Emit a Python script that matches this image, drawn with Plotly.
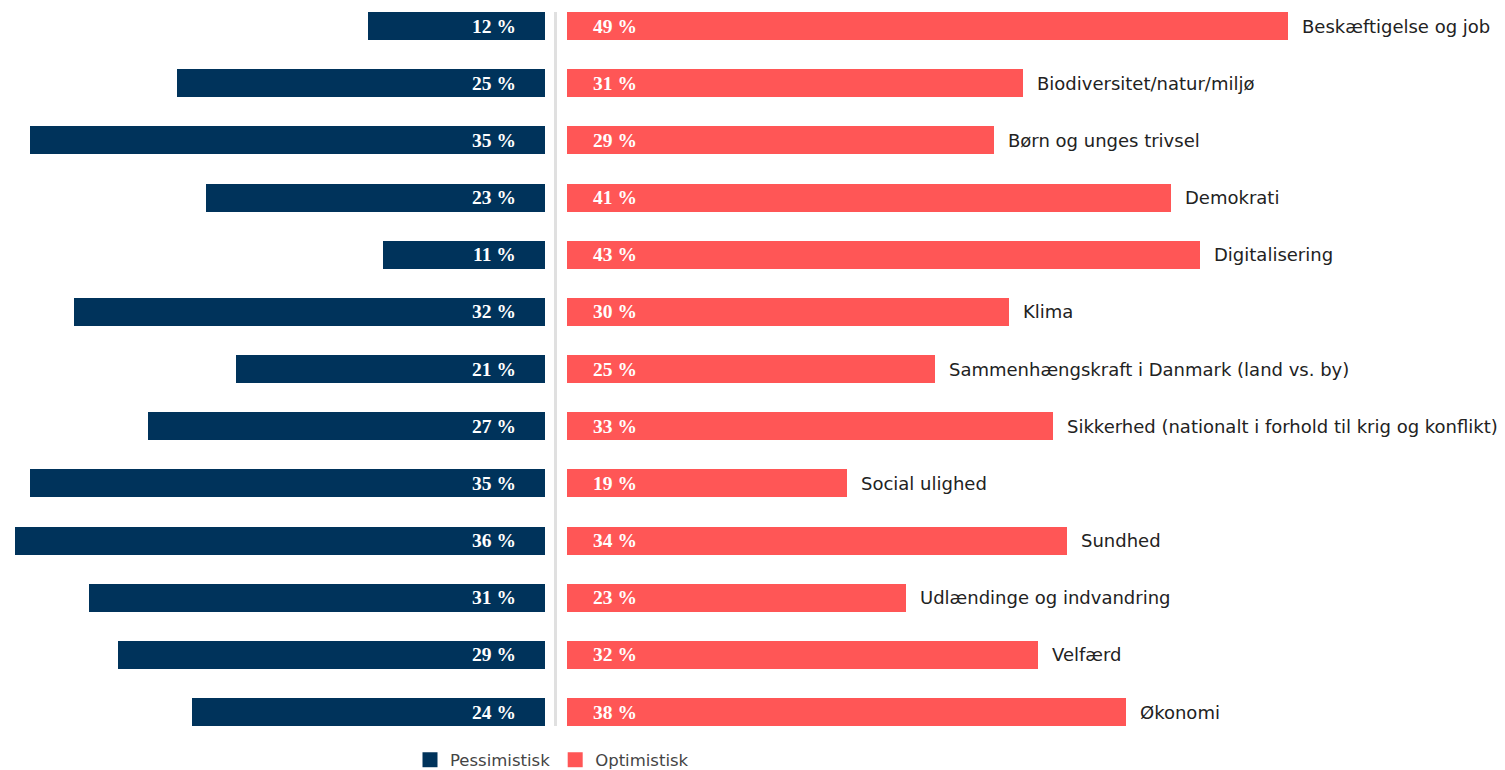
import plotly.graph_objects as go

categories = [
    "Beskæftigelse og job",
    "Biodiversitet/natur/miljø",
    "Børn og unges trivsel",
    "Demokrati",
    "Digitalisering",
    "Klima",
    "Sammenhængskraft i Danmark (land vs. by)",
    "Sikkerhed (nationalt i forhold til krig og konflikt)",
    "Social ulighed",
    "Sundhed",
    "Udlændinge og indvandring",
    "Velfærd",
    "Økonomi",
]
pessimistisk = [12, 25, 35, 23, 11, 32, 21, 27, 35, 36, 31, 29, 24]
optimistisk = [49, 31, 29, 41, 43, 30, 25, 33, 19, 34, 23, 32, 38]

NAVY = "#00335B"
RED = "#FF5656"
W, H = 1505, 770
PX_PER = 14.72  # pixels per percentage point

idx = list(range(len(categories)))

fig = go.Figure()
fig.add_trace(go.Bar(
    y=idx, x=pessimistisk, orientation="h", name="Pessimistisk",
    marker=dict(color=NAVY, line=dict(width=0)), width=0.49,
    xaxis="x", yaxis="y", hoverinfo="skip", showlegend=False,
))
fig.add_trace(go.Bar(
    y=idx, x=optimistisk, orientation="h", name="Optimistisk",
    marker=dict(color=RED, line=dict(width=0)), width=0.49,
    xaxis="x2", yaxis="y", hoverinfo="skip", showlegend=False,
))
for name, col in [("Pessimistisk", NAVY), ("Optimistisk", RED)]:
    fig.add_trace(go.Scatter(x=[None], y=[None], mode="markers", name=name,
                             marker=dict(symbol="square", size=15, color=col),
                             xaxis="x2", yaxis="y"))

ann = []
valfont = dict(family="Liberation Serif", size=19.5, color="white")
for i, (p, o, c) in enumerate(zip(pessimistisk, optimistisk, categories)):
    ann.append(dict(x=0, y=i, xref="x", yref="y", text=f"<b>{p} %</b>", showarrow=False,
                    xanchor="right", xshift=-27, font=valfont))
    ann.append(dict(x=0, y=i, xref="x2", yref="y", text=f"<b>{o} %</b>", showarrow=False,
                    xanchor="left", xshift=24, font=valfont))
    ann.append(dict(x=o, y=i, xref="x2", yref="y", text=c, showarrow=False,
                    xanchor="left", xshift=12, font=dict(family="DejaVu Sans", size=18, color="#222222")))

left_px = 545
right_px = 567
div_px = 555.5
top_row_px = 26
pitch = 57.17
bottom_px = 740
fig.update_layout(
    width=W, height=H,
    margin=dict(l=0, r=0, t=0, b=H - bottom_px),
    plot_bgcolor="white", paper_bgcolor="white",
    bargap=0,
    showlegend=True,
    legend=dict(orientation="h", x=552 / W, xanchor="center",
                yref="container", y=10 / H, yanchor="middle",
                font=dict(family="DejaVu Sans", size=16.5, color="#444444"),
                itemwidth=30, traceorder="normal", tracegroupgap=0),
    xaxis=dict(domain=[0, left_px / W], range=[left_px / PX_PER, 0], visible=False, fixedrange=True),
    xaxis2=dict(domain=[right_px / W, 1], range=[0, (W - right_px) / PX_PER], visible=False,
                anchor="y", fixedrange=True),
    yaxis=dict(range=[(bottom_px - top_row_px) / pitch, -top_row_px / pitch], visible=False, fixedrange=True),
    annotations=ann,
    shapes=[dict(type="line", xref="paper", yref="y", x0=div_px / W, x1=div_px / W,
                 y0=-0.245, y1=12.245, line=dict(color="#E0E0E0", width=3))],
)

fig.write_html("out.html", config={"displayModeBar": False},
               post_script="document.body.style.margin='0';")
